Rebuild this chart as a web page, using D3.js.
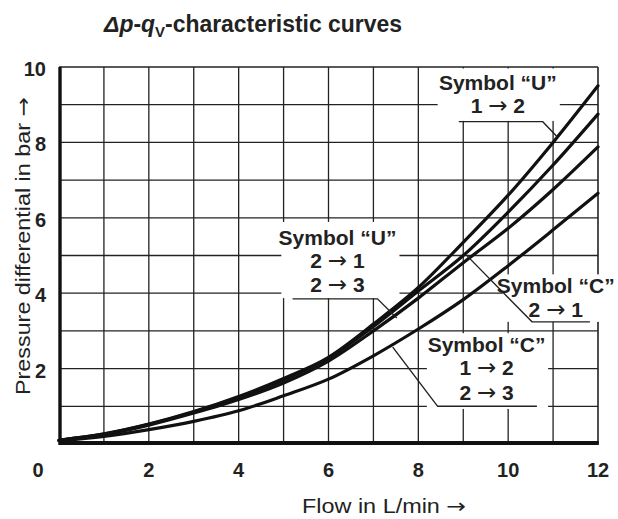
<!DOCTYPE html>
<html>
<head>
<meta charset="utf-8">
<script src="https://cdn.jsdelivr.net/npm/d3@7"></script>
<style>
  body { margin: 0; background: #fff; }
  svg { display: block; }
</style>
</head>
<body>
<script>
// flow in L/min and pressure differential in bar
const flow = [0, 1, 2, 3, 4, 5, 6, 7, 8, 9, 10, 11, 12];
const u12 = [0.10, 0.27, 0.53, 0.86, 1.26, 1.74, 2.30, 3.18, 4.15, 5.35, 6.60, 8.00, 9.50];
const u21 = [0.10, 0.26, 0.52, 0.85, 1.24, 1.70, 2.28, 3.12, 4.06, 5.00, 6.15, 7.40, 8.75];
const c21 = [0.10, 0.25, 0.50, 0.82, 1.18, 1.62, 2.20, 3.00, 3.87, 4.81, 5.72, 6.75, 7.88];
const c12 = [0.08, 0.20, 0.38, 0.60, 0.88, 1.28, 1.72, 2.34, 3.05, 3.83, 4.73, 5.68, 6.65];

const xTicks = [0, 2, 4, 6, 8, 10, 12];
const yTicks = [2, 4, 6, 8, 10];

const width = 618, height = 519;
const font = "'Liberation Sans', Arial, sans-serif";
const arrowFont = "'DejaVu Sans', sans-serif";

var x = d3.scaleLinear().domain([0, 12]).range([59, 598]);
var y = d3.scaleLinear().domain([0, 10]).range([444, 67]);

// annotation boxes, in data units (flow, bar)
var notes = [
  { lines: ["Symbol \u201CU\u201D", "1 \u2192 2"], cx: 9.77, base: [9.39, 8.78],
    box: [8.43, 11.15, 9.96, 8.57], under: [8.9, 10.77, 8.55], tip: [11.09, 8.15] },
  { lines: ["Symbol \u201CU\u201D", "2 \u2192 1", "2 \u2192 3"], cx: 6.2, base: [5.28, 4.67, 4.03],
    box: [4.95, 7.58, 5.89, 3.87], under: [5.2, 7.09, 3.85], tip: [7.52, 3.34], leftTip: false },
  { lines: ["Symbol \u201CC\u201D", "2 \u2192 1"], cx: 11.06, base: [4.0, 3.37],
    box: [9.88, 12.6, 4.5, 3.24], under: [10.53, 11.82, 3.24], tip: [9.07, 5.01], leftTip: true },
  { lines: ["Symbol \u201CC\u201D", "1 \u2192 2", "2 \u2192 3"], cx: 9.52, base: [2.44, 1.83, 1.17],
    box: [8.19, 10.89, 2.94, 0.93], under: [8.43, 10.64, 1.0], tip: [7.43, 2.57], leftTip: true }
];

var svg = d3.select("body").append("svg")
    .attr("width", width)
    .attr("height", height)
    .style("background", "#fff");

// writes a string into a text node, the arrow thin and long
function withArrow(sel, str, arrowSize) {
  var parts = str.split("\u2192");
  sel.append("tspan").text(parts[0]);
  if (parts.length > 1) {
    sel.append("tspan")
      .attr("font-family", arrowFont)
      .attr("font-weight", "normal")
      .attr("font-size", arrowSize)
      .text("\u2192");
    sel.append("tspan").text(parts[1]);
  }
}

// grid
var grid = svg.append("g").attr("stroke", "#222").attr("stroke-width", 1.3);
grid.selectAll(".v")
  .data(d3.range(1, 12))
  .join("line")
    .attr("x1", d => x(d)).attr("x2", d => x(d))
    .attr("y1", y(0)).attr("y2", y(10));
grid.selectAll(".h")
  .data(d3.range(1, 10))
  .join("line")
    .attr("x1", x(0)).attr("x2", x(12))
    .attr("y1", d => y(d)).attr("y2", d => y(d));
grid.append("line")
    .attr("x1", x(0)).attr("x2", x(12)).attr("y1", y(10)).attr("y2", y(10));
grid.append("line")
    .attr("x1", x(12)).attr("x2", x(12)).attr("y1", y(10)).attr("y2", y(0))
    .attr("stroke-width", 1.6);

// white boxes behind the labels
svg.append("g")
  .selectAll("rect")
  .data(notes)
  .join("rect")
    .attr("x", d => x(d.box[0]))
    .attr("y", d => y(d.box[2]))
    .attr("width", d => x(d.box[1]) - x(d.box[0]))
    .attr("height", d => y(d.box[3]) - y(d.box[2]))
    .attr("fill", "#fff");

// curves
var series = [u12, u21, c21, c12];
var line = d3.line()
    .x((d, i) => x(flow[i]))
    .y(d => y(d))
    .curve(d3.curveMonotoneX);

svg.append("g")
  .selectAll("path")
  .data(series)
  .join("path")
    .attr("d", d => line(d))
    .attr("fill", "none")
    .attr("stroke", "#111")
    .attr("stroke-width", 3.2)
    .attr("stroke-linecap", "round");

// leaders
svg.append("g")
  .selectAll("path")
  .data(notes)
  .join("path")
    .attr("fill", "none")
    .attr("stroke", "#222")
    .attr("stroke-width", 1.4)
    .attr("d", d => {
      var from = d.leftTip ? d.under[0] : d.under[1];
      var to = d.leftTip ? d.under[1] : d.under[0];
      return "M" + x(d.tip[0]) + "," + y(d.tip[1]) +
             "L" + x(from) + "," + y(d.under[2]) +
             "L" + x(to) + "," + y(d.under[2]);
    });

// label texts
var lab = svg.append("g")
    .attr("font-family", font)
    .attr("font-weight", "bold")
    .attr("font-size", 21)
    .attr("fill", "#222")
    .attr("text-anchor", "middle");
notes.forEach(function(n) {
  n.lines.forEach(function(t, i) {
    var tx = lab.append("text")
      .attr("x", x(n.cx))
      .attr("y", y(n.base[i]));
    withArrow(tx, t, 23);
  });
});

// thick axes
svg.append("line")
    .attr("x1", x(0) + 1).attr("x2", x(0) + 1)
    .attr("y1", y(10)).attr("y2", y(0) + 1)
    .attr("stroke", "#111").attr("stroke-width", 3.4);
svg.append("line")
    .attr("x1", x(0)).attr("x2", x(12) + 0.8)
    .attr("y1", y(0) - 1).attr("y2", y(0) - 1)
    .attr("stroke", "#111").attr("stroke-width", 4);

// tick labels
svg.append("g")
    .attr("font-family", font)
    .attr("font-weight", "bold")
    .attr("font-size", 20)
    .attr("fill", "#222")
    .attr("text-anchor", "middle")
  .selectAll("text")
  .data(xTicks)
  .join("text")
    .attr("x", d => d === 0 ? x(0) - 21 : x(d))
    .attr("y", 477)
    .text(d => d);

svg.append("g")
    .attr("font-family", font)
    .attr("font-weight", "bold")
    .attr("font-size", 20)
    .attr("fill", "#222")
    .attr("text-anchor", "end")
  .selectAll("text")
  .data(yTicks)
  .join("text")
    .attr("x", 46)
    .attr("y", d => y(d) + 9)
    .text(d => d);

// axis titles
var xTitle = svg.append("text")
    .attr("x", 384)
    .attr("y", 513)
    .attr("text-anchor", "middle")
    .attr("font-family", font)
    .attr("font-size", 20)
    .attr("fill", "#222")
    .attr("textLength", 164)
    .attr("lengthAdjust", "spacingAndGlyphs");
withArrow(xTitle, "Flow in L/min \u2192", 20);

var yTitle = svg.append("text")
    .attr("transform", "translate(30,246) rotate(-90)")
    .attr("text-anchor", "middle")
    .attr("font-family", font)
    .attr("font-size", 20)
    .attr("fill", "#222")
    .attr("textLength", 298)
    .attr("lengthAdjust", "spacingAndGlyphs");
withArrow(yTitle, "Pressure differential in bar \u2192", 20);

// title
var title = svg.append("text")
    .attr("x", 104)
    .attr("y", 32)
    .attr("font-family", font)
    .attr("font-weight", "bold")
    .attr("font-size", 23)
    .attr("fill", "#222")
    .attr("textLength", 298)
    .attr("lengthAdjust", "spacingAndGlyphs");
title.append("tspan").attr("font-style", "italic").text("\u0394p");
title.append("tspan").text("-");
title.append("tspan").attr("font-style", "italic").text("q");
title.append("tspan").attr("font-size", 15).attr("dy", 5).text("V");
title.append("tspan").attr("dy", -5).text("-characteristic curves");
</script>
</body>
</html>
